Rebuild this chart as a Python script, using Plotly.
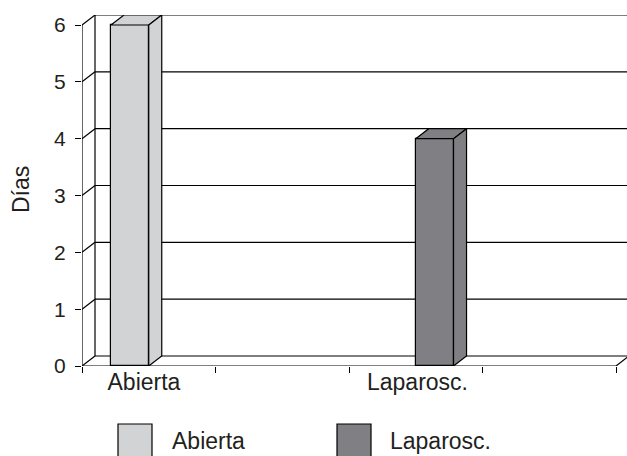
import plotly.graph_objects as go

# ---- data ----
categories = ["Abierta", "Laparosc."]
series_names = ["Abierta", "Laparosc."]
dias = [6, 4]
y_ticks = [0, 1, 2, 3, 4, 5, 6]
series_colors = ["#D2D3D5", "#808084"]

# ---- geometry (axis units) ----
n_slots = 4                 # category slots on the axis (two are blank)
slot_of_cat = [0, 2]
bar_w = 0.283               # width of one bar within a cluster
dx, dy = 0.0974, 0.176      # 3-D depth offset
ymax = 6
FONT = "Liberation Sans, Arial, sans-serif"
TXT = "#231F20"

fig = go.Figure()

# bars: front face + top + side faces
for i, (name, val) in enumerate(zip(series_names, dias)):
    center = slot_of_cat[i] + 0.5
    x0 = center - bar_w if i == 0 else center
    x1 = x0 + bar_w
    col = series_colors[i]
    fig.add_trace(go.Bar(x=[(x0 + x1) / 2], y=[val], width=[bar_w], base=0,
                         marker=dict(color=col, line=dict(color="black", width=1.2)),
                         name=name, showlegend=False, hoverinfo="skip"))
    # top face
    fig.add_trace(go.Scatter(x=[x0, x1, x1 + dx, x0 + dx, x0], y=[val, val, val + dy, val + dy, val],
                             fill="toself", fillcolor=col, mode="lines",
                             line=dict(color="black", width=1.2), showlegend=False, hoverinfo="skip"))
    # side face
    fig.add_trace(go.Scatter(x=[x1, x1 + dx, x1 + dx, x1, x1], y=[0, dy, val + dy, val, 0],
                             fill="toself", fillcolor=col, mode="lines",
                             line=dict(color="black", width=1.2), showlegend=False, hoverinfo="skip"))

shapes = []
LW = 1.2
# back wall gridlines (incl. top) and floor back line
for k in y_ticks:
    shapes.append(dict(type="line", xref="x", yref="y", x0=dx, x1=n_slots + 1, y0=k + dy, y1=k + dy,
                       line=dict(color="black", width=LW), layer="below"))
    # depth diagonals at left
    shapes.append(dict(type="line", xref="x", yref="y", x0=0, x1=dx, y0=k, y1=k + dy,
                       line=dict(color="black", width=LW), layer="below"))
# back-wall left edge
shapes.append(dict(type="line", xref="x", yref="y", x0=dx, x1=dx, y0=dy, y1=ymax + dy,
                   line=dict(color="black", width=LW), layer="below"))
# front y axis line
shapes.append(dict(type="line", xref="x", yref="y", x0=0, x1=0, y0=0, y1=ymax,
                   line=dict(color="black", width=LW), layer="below"))
# front floor line and right diagonal
shapes.append(dict(type="line", xref="x", yref="y", x0=0, x1=n_slots, y0=0, y1=0,
                   line=dict(color="black", width=LW), layer="below"))
shapes.append(dict(type="line", xref="x", yref="y", x0=n_slots, x1=n_slots + dx, y0=0, y1=dy,
                   line=dict(color="black", width=LW), layer="below"))

# manual legend
W, H = 545.0, 351.0
def px(x): return (x - 82) / W
def py(y): return (366 - y) / H
leg_sq_x = [118, 337]
leg_txt_x = [170, 388]
annotations = []
for i, name in enumerate(series_names):
    shapes.append(dict(type="rect", xref="paper", yref="paper",
                       x0=px(leg_sq_x[i]), x1=px(leg_sq_x[i] + 34), y0=py(424), y1=py(458),
                       fillcolor=series_colors[i], line=dict(color="black", width=1.2)))
    annotations.append(dict(xref="paper", yref="paper", x=px(leg_txt_x[i]), y=py(441),
                            xanchor="left", yanchor="middle", text=name, showarrow=False,
                            font=dict(family=FONT, size=23, color=TXT)))

annotations.append(dict(xref="paper", yref="paper", x=px(21), y=py(190), text="Días",
                        textangle=-90, showarrow=False, xanchor="center", yanchor="middle",
                        font=dict(family=FONT, size=23, color=TXT)))

fig.update_layout(
    width=627, height=456,
    margin=dict(l=82, r=0, t=15, b=90),
    paper_bgcolor="white", plot_bgcolor="white",
    bargap=0, showlegend=False,
    shapes=shapes, annotations=annotations,
    xaxis=dict(range=[0, 545 / 133.5], showgrid=False, zeroline=False, showline=False,
               tickmode="array", tickvals=[0.464, 2.513], ticktext=categories, ticks="",
               tickfont=dict(family=FONT, size=23, color=TXT),
               minor=dict(tickmode="array", tickvals=[0, 1, 2, 3, 4], ticks="outside",
                          ticklen=6, tickcolor="black", tickwidth=1.2, showgrid=False)),
    yaxis=dict(range=[0, 351 / 56.83], showgrid=False, zeroline=False, showline=False,
               tickmode="array", tickvals=y_ticks, ticks="outside", ticklen=6,
               tickcolor="black", tickwidth=1.2, ticklabelstandoff=5,
               tickfont=dict(family=FONT, size=21, color=TXT)),
)

fig.write_html("out.html")
